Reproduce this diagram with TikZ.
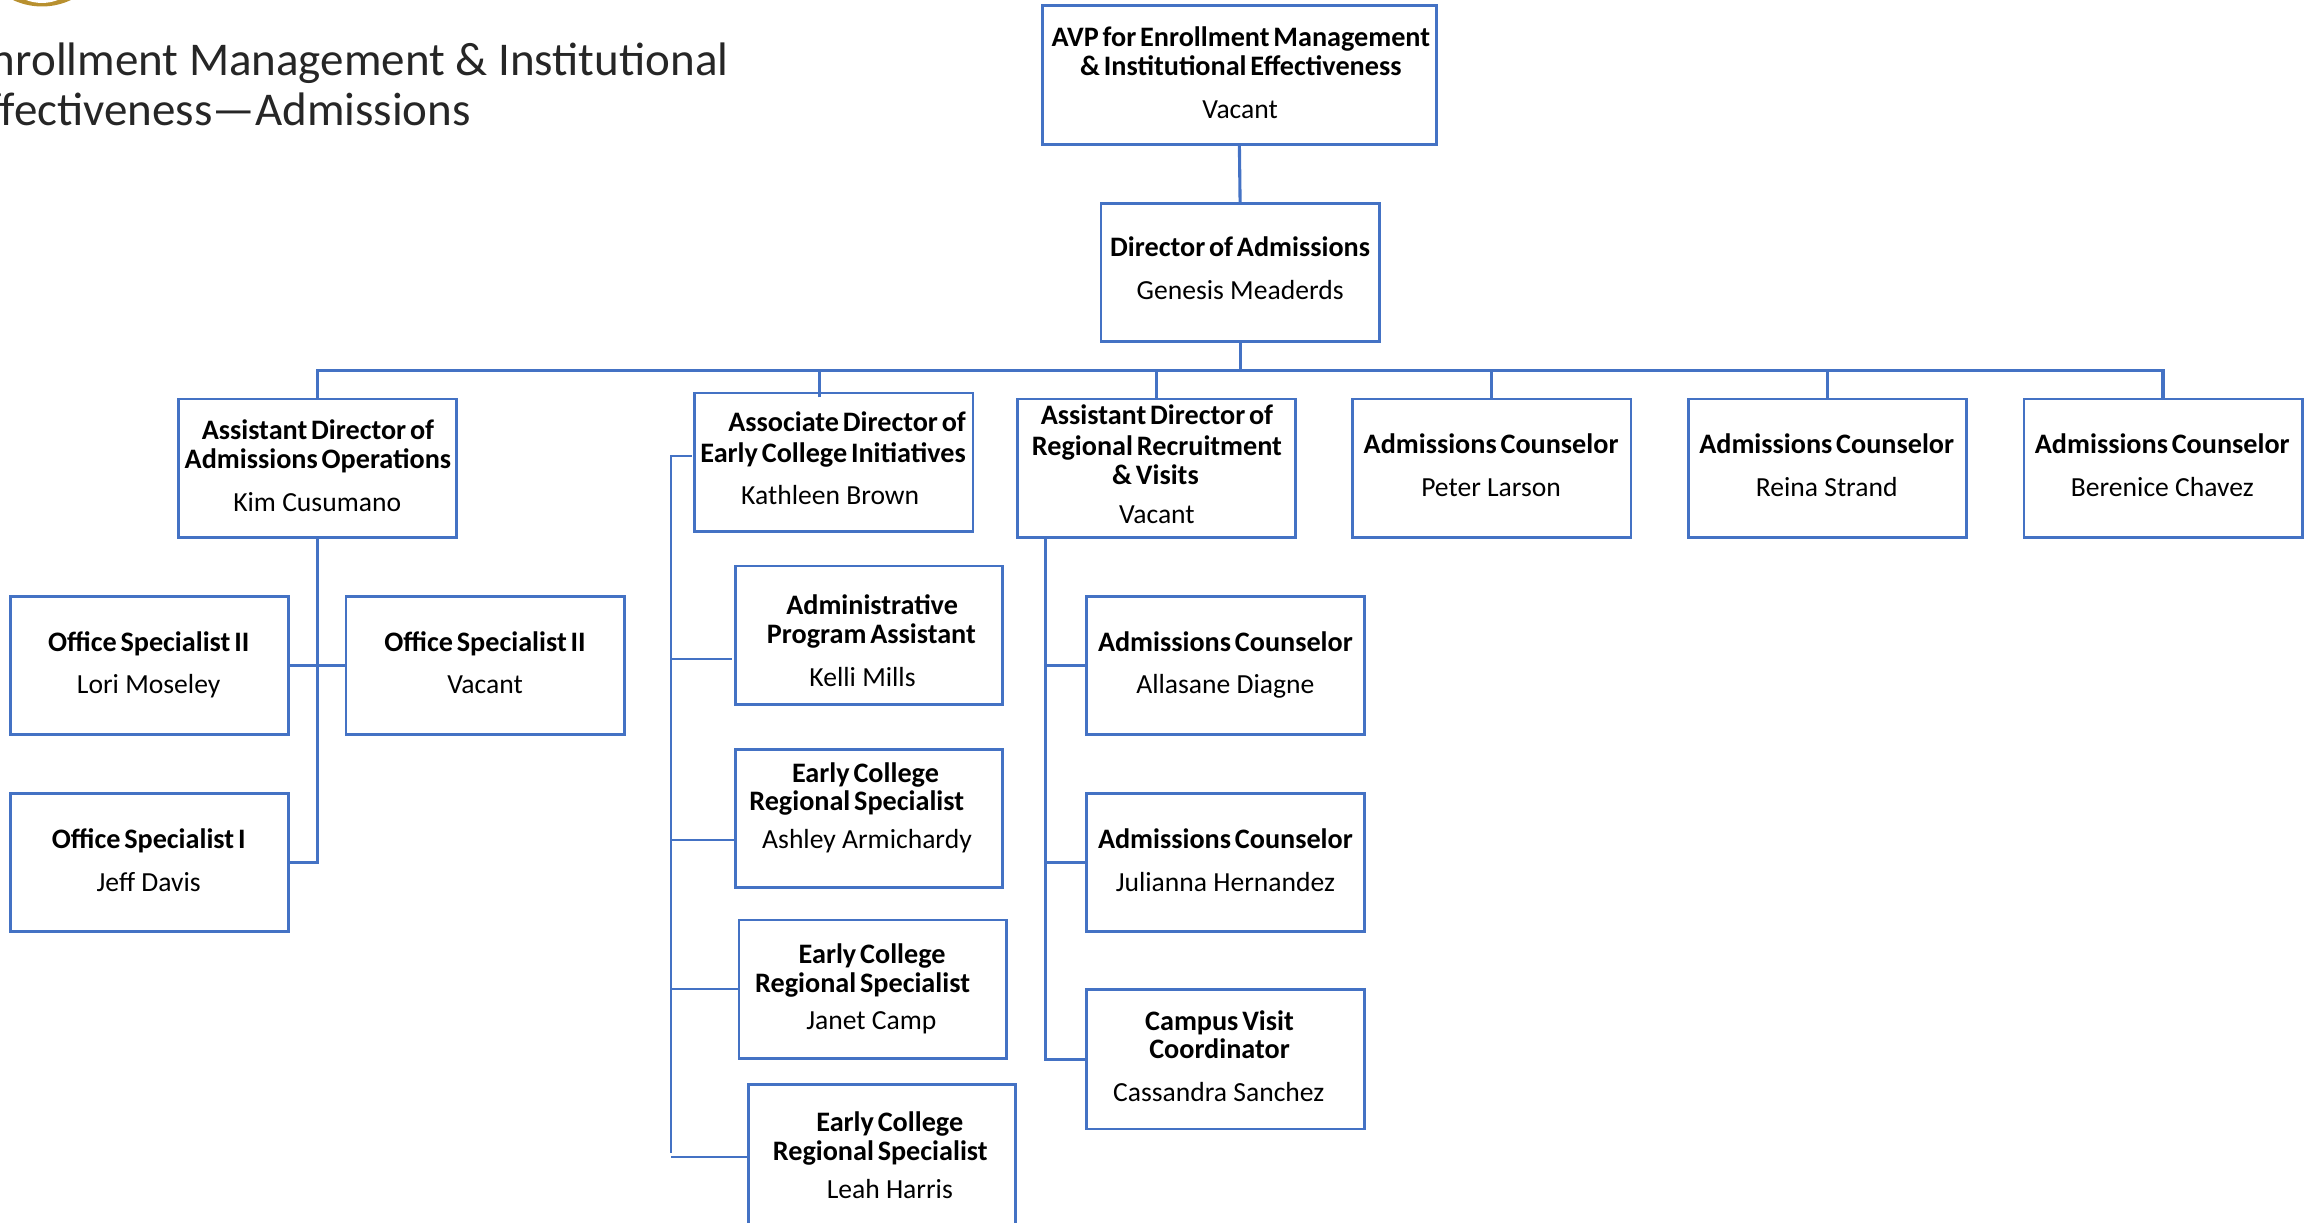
\documentclass[tikz,border=0pt]{standalone}
\usepackage{fontspec}
\setmainfont{Carlito}
\newfontfamily\tightfam{Carlito}[WordSpace=0.6]
\newcounter{tlc}
\definecolor{boxblue}{HTML}{4472C4}
\definecolor{logogold}{HTML}{B8902F}
\tikzset{
  box/.style={draw=boxblue,line width=2.8pt,fill=none,inner sep=0pt,outer sep=0pt,rectangle},
  conn/.style={draw=boxblue,line width=3.1pt},
  thin conn/.style={draw=boxblue,line width=2.2pt},
  boldline/.style={anchor=base,inner sep=0pt,font=\fontsize{28.2}{32}\selectfont\tightfam\bfseries,text=black,yshift=-0.6pt},
  nameline/.style={anchor=base,inner sep=0pt,font=\fontsize{27.6}{32}\selectfont,text=black,yshift=-0.6pt},
  titleline/.style={anchor=base east,inner sep=0pt,font=\fontsize{47}{54}\selectfont,text=black!85}
}
% box: name, x1, y1, x2, y2
\newcommand{\bx}[5]{\pgfmathsetmacro\bxw{(#4-#2)*1.47194}\pgfmathsetmacro\bxh{(#5-#3)*1.47194}%
  \node[box,minimum width=\bxw pt,minimum height=\bxh pt] (#1) at ({(#2+#4)/2},{(#3+#5)/2}) {};}
\newcommand{\tb}[3]{\stepcounter{tlc}\node[boldline] (tl\thetlc) at (#1,#2) {#3};}
\newcommand{\tn}[3]{\stepcounter{tlc}\node[nameline] (tl\thetlc) at (#1,#2) {#3};}
\begin{document}
\begin{tikzpicture}[x=1.47194pt,y=-1.47194pt]
\useasboundingbox (0,0) rectangle (1568,830.2);
% logo fragment
\fill[logogold] (28.5,-41.6) circle (46);
\fill[white] (28.5,-28) circle (30);
% title
\node[titleline] (title1) at (495,51) {Enrollment Management \& Institutional};
\node[titleline] (title2) at (320,85) {Effectiveness—Admissions};
% boxes
\bx{avp}{708}{4}{976}{98}
\bx{dir}{748}{138}{937}{232}
\bx{kim}{121}{271}{310}{365}
\bx{kath}{472}{267}{661}{361}
\bx{reg}{691}{271}{880}{365}
\bx{peter}{919}{271}{1108}{365}
\bx{reina}{1147}{271}{1336}{365}
\bx{beren}{1375}{271}{1564}{365}
\bx{lori}{7}{405}{196}{499}
\bx{vac}{235}{405}{424}{499}
\bx{jeff}{7}{539}{196}{633}
\bx{kelli}{499.5}{384.5}{681}{478.5}
\bx{ashley}{499.5}{509}{681}{603}
\bx{janet}{502}{625}{684}{719}
\bx{leah}{508.5}{737}{690}{832}
\bx{alla}{738}{405}{927}{499}
\bx{juli}{738}{539}{927}{633}
\bx{cass}{738}{672}{927}{767}
% bus and connectors
\coordinate (busM) at (842.5,251.5);
\draw[conn] (avp.south) -- (dir.north);
\draw[conn] (dir.south) -- (busM);
\draw[conn] (kim.north) -- (kim.north |- busM) -- (beren.north |- busM) -- (beren.north);
\coordinate (kt) at (557,270);
\draw[conn] (kt) -- (kt |- busM);
\draw[conn] (reg.north) -- (reg.north |- busM);
\draw[conn] (peter.north) -- (peter.north |- busM);
\draw[conn] (reina.north) -- (reina.north |- busM);
% Kim's reports
\draw[conn] (kim.south) -- (kim.south |- jeff.east) -- (jeff.east);
\draw[conn] (lori.east) -- (vac.west);
% Kathleen's reports
\coordinate (kv) at (456,310);
\coordinate (kvEnd) at (456,783.5);
\coordinate (kS) at (470,310);
\draw[thin conn] (kS) -- (kv) -- (kvEnd);
\coordinate (kelliS) at (497,447.7);
\draw[thin conn] (kelliS) -- (kelliS -| kv);
\coordinate (ashS) at (499.5,570.5);
\draw[thin conn] (ashS) -- (ashS -| kv);
\coordinate (janS) at (502,672);
\draw[thin conn] (janS) -- (janS -| kv);
\coordinate (leaS) at (508.5,786);
\draw[thin conn] (leaS) -- (leaS -| kv);
% Regional reports
\coordinate (rv) at (710,365);
\draw[conn] (rv) -- (rv |- cass.west) -- (cass.west);
\draw[conn] (alla.west) -- (alla.west -| rv);
\draw[conn] (juli.west) -- (juli.west -| rv);
% texts
\tb{843}{31}{AVP for Enrollment Management}
\tb{843}{51}{\& Institutional Effectiveness}
\tn{842.5}{80}{Vacant}
\tb{842.5}{174}{Director of Admissions}
\tn{842.5}{203}{Genesis Meaderds}
\tb{216}{298}{Assistant Director of}
\tb{216}{318}{Admissions Operations}
\tn{215.5}{347}{Kim Cusumano}
\tb{575.5}{293}{Associate Director of}
\tb{566}{314}{Early College Initiatives}
\tn{564}{342}{Kathleen Brown}
\tb{786}{288}{Assistant Director of}
\tb{786}{309}{Regional Recruitment}
\tb{785}{329}{\& Visits}
\tn{786}{355}{Vacant}
\tb{1013}{308}{Admissions Counselor}
\tn{1013}{337}{Peter Larson}
\tb{1241}{308}{Admissions Counselor}
\tn{1241}{337}{Reina Strand}
\tb{1469}{308}{Admissions Counselor}
\tn{1469}{337}{Berenice Chavez}
\tb{101}{442}{Office Specialist II}
\tn{101}{471}{Lori Moseley}
\tb{329.5}{442}{Office Specialist II}
\tn{329.5}{471}{Vacant}
\tb{101}{576}{Office Specialist I}
\tn{101}{605}{Jeff Davis}
\tb{592.5}{417}{Administrative}
\tb{592}{437}{Program Assistant}
\tn{586}{466}{Kelli Mills}
\tb{588}{531}{Early College}
\tb{582}{550}{Regional Specialist}
\tn{589}{576}{Ashley Armichardy}
\tb{592.5}{654}{Early College}
\tb{586}{674}{Regional Specialist}
\tn{592}{699}{Janet Camp}
\tb{604.5}{768}{Early College}
\tb{598}{788}{Regional Specialist}
\tn{604.5}{814}{Leah Harris}
\tb{832.5}{442}{Admissions Counselor}
\tn{832.5}{471}{Allasane Diagne}
\tb{832.5}{576}{Admissions Counselor}
\tn{832.5}{605}{Julianna Hernandez}
\tb{828.5}{700}{Campus Visit}
\tb{828.5}{719}{Coordinator}
\tn{828}{748}{Cassandra Sanchez}
\end{tikzpicture}
\end{document}
